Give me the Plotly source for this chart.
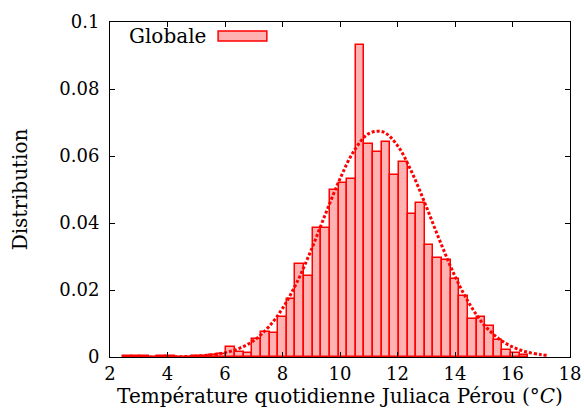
import plotly.graph_objects as go

# Histogram bins (centres, bin width 0.3) and probabilities
bin_centres = [2.6, 2.9, 3.2, 3.5, 3.8, 4.1, 4.4, 4.7, 5.0, 5.3, 5.6, 5.9,
               6.2, 6.5, 6.8, 7.1, 7.4, 7.7, 8.0, 8.3, 8.6, 8.9, 9.2, 9.5,
               9.8, 10.1, 10.4, 10.7, 11.0, 11.3, 11.6, 11.9, 12.2, 12.5, 12.8, 13.1,
               13.4, 13.7, 14.0, 14.3, 14.6, 14.9, 15.2, 15.5, 15.8, 16.1, 16.4]
bin_values = [0.0002, 0.0002, 0.0002, 0.0001, 0.0002, 0.0004, 0.0001, 0.0001, 0.0002, 0.0004, 0.0006, 0.0008,
              0.0030, 0.0014, 0.0011, 0.0053, 0.0074, 0.0071, 0.0118, 0.0174, 0.0277, 0.0243, 0.0384, 0.0384,
              0.0500, 0.0520, 0.0530, 0.0930, 0.0636, 0.0611, 0.0641, 0.0542, 0.0583, 0.0426, 0.0459, 0.0334,
              0.0297, 0.0290, 0.0232, 0.0182, 0.0113, 0.0118, 0.0092, 0.0050, 0.0020, 0.0011, 0.0005]

# Fitted curve (dotted)
fit_x = [2.5, 3.0, 3.5, 4.0, 4.5, 5.0, 5.5, 6.0, 6.5, 7.0, 7.5, 8.0, 8.5, 9.0, 9.5, 10.0,
         10.5, 11.0, 11.5, 12.0, 12.5, 13.0, 13.5, 14.0, 14.5, 15.0, 15.5, 16.0, 16.5, 17.0, 17.2]
fit_y = [0.0000, 0.0000, 0.00001, 0.00004, 0.0001, 0.00025, 0.0006, 0.0013, 0.0026, 0.0049, 0.0088, 0.0145,
         0.0223, 0.0320, 0.0428, 0.0532, 0.0617, 0.0667, 0.0672, 0.0631, 0.0551, 0.0449, 0.0341, 0.0241,
         0.0159, 0.0097, 0.0056, 0.0030, 0.0015, 0.0007, 0.0005]

legend_label = "Globale"
x_title = "Température quotidienne Juliaca Pérou (°<i>C</i>)"
y_title = "Distribution"

FONT = "DejaVu Serif"
RED = "#ff0000"
FILL = "rgba(255,0,0,0.3)"

fig = go.Figure()
fig.add_trace(go.Bar(
    x=bin_centres, y=bin_values, width=0.3,
    marker=dict(color=FILL, line=dict(color=RED, width=1.5)),
    showlegend=False,
))
fig.add_trace(go.Scatter(
    x=fit_x, y=fit_y, mode="lines",
    line=dict(color=RED, width=3, dash="3px,2px", shape="spline"),
    showlegend=False,
))

# gnuplot-style legend: text then sample box
fig.add_annotation(xref="paper", yref="paper", x=0.213, y=0.958, xanchor="right", yanchor="middle",
                   text=legend_label, showarrow=False, font=dict(family=FONT, size=20, color="#000"))
fig.add_shape(type="rect", xref="paper", yref="paper", x0=0.235, x1=0.341, y0=0.943, y1=0.973,
              fillcolor=FILL, line=dict(color=RED, width=1.5))

axis_common = dict(showline=True, linecolor="#000", linewidth=1, mirror="ticks",
                   ticks="inside", ticklen=5, tickcolor="#000", tickwidth=1,
                   showgrid=False, zeroline=False, automargin=False,
                   tickfont=dict(family=FONT, size=18, color="#000"))

fig.update_xaxes(range=[2, 18], tick0=2, dtick=2,
                 title=dict(text=x_title, font=dict(family=FONT, size=20, color="#000"), standoff=5),
                 **axis_common)
fig.update_yaxes(range=[0, 0.1], tick0=0, dtick=0.02, ticklabelstandoff=6,
                 title=dict(text=y_title, font=dict(family=FONT, size=20, color="#000"), standoff=26),
                 **axis_common)

fig.update_layout(width=584, height=414, margin=dict(l=110, r=14, t=22, b=57),
                  font=dict(family=FONT, color="#000"),
                  plot_bgcolor="white", paper_bgcolor="white", bargap=0)

fig.write_html("out.html")
